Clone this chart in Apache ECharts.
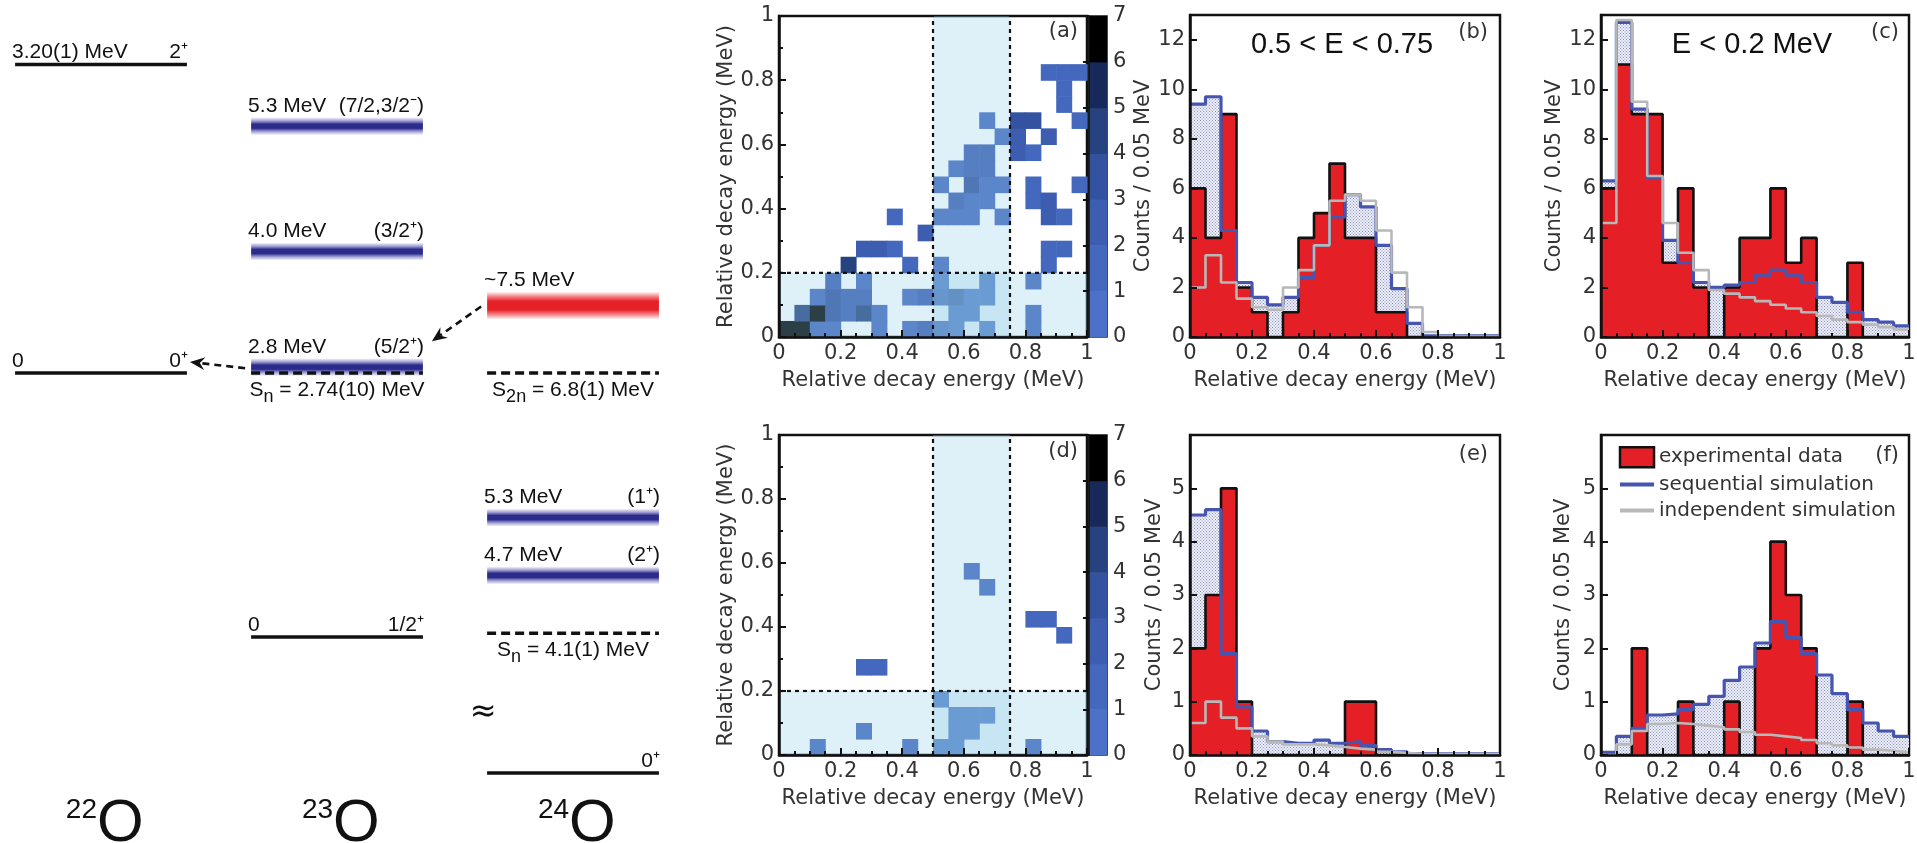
<!DOCTYPE html>
<html><head><meta charset="utf-8">
<script src="https://cdn.jsdelivr.net/npm/echarts@6/dist/echarts.min.js"></script>
<style>html,body{margin:0;padding:0;background:#fff}#c{width:1917px;height:843px}</style>
</head><body><div id="c"></div>
<script>
// ================= DATA =================
const binWidth = 0.05;
const energyTicks = [0, 0.2, 0.4, 0.6, 0.8, 1];
const energyTickLabels = ['0', '0.2', '0.4', '0.6', '0.8', '1'];

// ---- level scheme (energies in MeV) ----
const nucleusMass = ['22', '23', '24'];
const nucleusShift = [0, -2.74, -6.8];           // drawn relative to the 22O ground state
const levelNucleus = [0, 0, 1, 1, 1, 1, 2, 2, 2, 2];
const levelEnergy = [3.20, 0, 5.3, 4.0, 2.8, 0, 7.5, 5.3, 4.7, 0];
const levelKind = ['line', 'line', 'blue', 'blue', 'blue', 'line', 'red', 'blue', 'blue', 'broken'];
const levelLeftText = ['3.20(1) MeV', '0', '5.3 MeV', '4.0 MeV', '2.8 MeV', '0', '~7.5 MeV', '5.3 MeV', '4.7 MeV', ''];
const levelRightText = ['2\u207A', '0\u207A', '(7/2,3/2\u207B)', '(3/2\u207A)', '(5/2\u207A)', '1/2\u207A', '', '(1\u207A)', '(2\u207A)', '0\u207A'];
const brokenAxisLevelY = -4.15;                  // 24O g.s. drawn below the axis break
const thresholdNucleus = [1, 2, 2];
const thresholdEnergy = [2.74, 6.8, 4.1];
const thresholdSub = ['n', '2n', 'n'];
const thresholdValue = ['2.74(10) MeV', '6.8(1) MeV', '4.1(1) MeV'];
const transitionFrom = [6, 4];
const transitionTo = [4, 1];

// ---- 2D decay-energy correlations: [xBin, yBin, counts] ----
const heatA = [
  [0,0,7],[1,0,6],[2,0,1],[3,0,1],[6,0,1],[8,0,1],[9,0,2],[10,0,2],[11,0,1],[13,0,1],[16,0,1],
  [1,1,4],[2,1,6],[3,1,3],[4,1,2],[5,1,4],[6,1,1],[11,1,1],[12,1,1],[16,1,1],
  [2,2,1],[3,2,3],[4,2,2],[5,2,2],[8,2,1],[9,2,2],[10,2,2],[11,2,3],[12,2,1],[13,2,1],
  [3,3,2],[5,3,1],[10,3,1],[13,3,1],[16,3,1],
  [4,4,4],[8,4,1],[10,4,1],[17,4,1],
  [5,5,2],[6,5,2],[7,5,1],[17,5,1],[18,5,1],
  [9,6,2],
  [7,7,1],[10,7,1],[11,7,1],[12,7,1],[14,7,1],[17,7,2],[18,7,1],
  [11,8,2],[12,8,1],[13,8,1],[16,8,1],[17,8,2],
  [10,9,1],[12,9,3],[13,9,1],[14,9,1],[16,9,1],[19,9,1],
  [11,10,1],[12,10,2],[13,10,2],
  [12,11,2],[13,11,2],[15,11,2],[16,11,1],
  [14,12,1],[15,12,2],[17,12,2],
  [13,13,1],[15,13,3],[16,13,3],[19,13,1],
  [18,14,1],[18,15,1],
  [17,16,1],[18,16,1],[19,16,1]
];
const heatD = [
  [2,0,1],[8,0,1],[10,0,1],[11,0,1],[16,0,1],
  [5,1,1],[11,1,1],[12,1,1],
  [11,2,1],[12,2,1],[13,2,1],
  [10,3,1],
  [5,5,1],[6,5,1],
  [18,7,1],
  [16,8,1],[17,8,1],
  [13,10,1],
  [12,11,1]
];
const colorbarLevels = [0, 1, 2, 3, 4, 5, 6];
const colorbarTicks = [0, 1, 2, 3, 4, 5, 6, 7];
const cutWindow = [0.5, 0.75];
const lowEnergyCut = 0.2;

// ---- 1D histograms, 0.05 MeV bins from 0 to 1 ----
const expB = [6, 4, 9, 2, 1, 0, 1, 4, 5, 7, 4, 4, 1, 1, 0, 0, 0, 0, 0, 0];
const seqB = [9.4, 9.7, 4.3, 2.2, 1.6, 1.3, 1.6, 2.4, 3.7, 4.85, 5.75, 5.25, 3.7, 1.95, 0.55, 0.05, 0.05, 0.05, 0.05, 0.05];
const indB = [2.0, 3.3, 2.2, 1.55, 1.2, 1.1, 2.0, 2.7, 3.7, 5.5, 5.75, 5.5, 4.3, 2.6, 1.2, 0.2, 0.02, 0.02, 0.02, 0.02];

const expC = [6, 11, 9, 9, 3, 6, 2, 0, 2, 4, 4, 6, 3, 4, 0, 0, 3, 0, 0, 0];
const seqC = [6.3, 12.7, 9.2, 6.4, 3.9, 3.0, 2.2, 2.0, 2.1, 2.2, 2.5, 2.7, 2.5, 2.2, 1.6, 1.4, 1.0, 0.7, 0.6, 0.45];
const indC = [4.6, 12.8, 9.5, 6.5, 4.6, 3.4, 2.7, 1.9, 1.75, 1.6, 1.45, 1.3, 1.15, 1.0, 0.85, 0.7, 0.6, 0.5, 0.4, 0.3];

const expE = [2, 3, 5, 1, 0, 0, 0, 0, 0, 0, 1, 1, 0, 0, 0, 0, 0, 0, 0, 0];
const seqE = [4.5, 4.6, 1.9, 0.9, 0.45, 0.25, 0.22, 0.22, 0.28, 0.22, 0.25, 0.18, 0.1, 0.06, 0.02, 0.02, 0.02, 0.02, 0.02, 0.02];
const indE = [0.6, 1.0, 0.7, 0.5, 0.35, 0.25, 0.2, 0.2, 0.18, 0.15, 0.12, 0.1, 0.06, 0.04, 0.02, 0.02, 0.02, 0.02, 0.02, 0.02];

const expF = [0, 0, 2, 0, 0, 1, 0, 0, 1, 0, 2, 4, 3, 2, 0, 0, 1, 0, 0, 0];
const seqF = [0.05, 0.35, 0.5, 0.75, 0.77, 0.85, 0.95, 1.1, 1.4, 1.65, 2.1, 2.5, 2.2, 1.9, 1.5, 1.15, 0.85, 0.6, 0.45, 0.35];
const indF = [0.0, 0.2, 0.45, 0.58, 0.6, 0.58, 0.55, 0.52, 0.48, 0.43, 0.38, 0.35, 0.32, 0.28, 0.22, 0.18, 0.14, 0.1, 0.08, 0.05];

const legendNames = ['experimental data', 'sequential simulation', 'independent simulation'];

// ================= STYLE =================
const FONT = 'DejaVu Sans';
const SANS = 'Liberation Sans';
const INK = '#111';
const LABEL = '#333';
const RED = '#e41f26';
const BLUE = '#4655b0';
const GREY = '#b8b8b8';
const AX = 21;     // axis text size
const LV = 21;     // level-scheme text size
const heatColors = ['#4b72c8', '#4468bd', '#3c5db0', '#3352a0', '#27437f', '#17295a', '#000000'];

const chart = echarts.init(document.getElementById('c'), null, {renderer: 'canvas', width: 1917, height: 843});

function tickLabel(v) {
  const i = energyTicks.findIndex(t => Math.abs(t - v) < 1e-6);
  return i >= 0 ? energyTickLabels[i] : '';
}
function dotPattern() {
  const c = document.createElement('canvas'); c.width = 3; c.height = 3;
  const g = c.getContext('2d');
  g.fillStyle = '#eceef8'; g.fillRect(0, 0, 3, 3);
  g.fillStyle = '#8b91c0'; g.fillRect(0, 0, 1, 1); g.fillRect(1.5, 1.5, 1, 1);
  return c;
}
const DOTS = {image: dotPattern(), repeat: 'repeat'};

// ---- grids (layout only) ----
const gridBase = {show: true, borderColor: INK, borderWidth: 2.5, backgroundColor: 'transparent', containLabel: false, outerBoundsMode: 'none'};
const grids = [
  {show: false, left: 0, top: 0, width: 700, height: 843, containLabel: false, outerBoundsMode: 'none'},
  Object.assign({}, gridBase, {left: 779, top: 16, width: 308, height: 321}),
  Object.assign({}, gridBase, {left: 1089, top: 16, width: 18, height: 321, borderWidth: 1.5}),
  Object.assign({}, gridBase, {left: 779, top: 435, width: 308, height: 320}),
  Object.assign({}, gridBase, {left: 1089, top: 435, width: 18, height: 320, borderWidth: 1.5}),
  Object.assign({}, gridBase, {left: 1190, top: 15, width: 310, height: 322}),
  Object.assign({}, gridBase, {left: 1601, top: 15, width: 308, height: 322}),
  Object.assign({}, gridBase, {left: 1190, top: 435, width: 310, height: 320}),
  Object.assign({}, gridBase, {left: 1601, top: 435, width: 308, height: 320})
];

const axisLineS = {show: true, onZero: false, lineStyle: {color: INK, width: 2.5}};
const tickS = {show: true, inside: true, length: 7, lineStyle: {color: INK, width: 2}};
const nameS = {fontFamily: FONT, fontSize: AX, color: LABEL};

function energyX(g) {
  return {type: 'value', gridIndex: g, min: 0, max: 1, interval: 0.2, z: 6,
    axisLine: axisLineS, axisTick: tickS,
    minorTick: {show: true, splitNumber: 4, length: 4, lineStyle: {color: INK, width: 2}},
    splitLine: {show: false}, minorSplitLine: {show: false},
    axisLabel: {show: true, margin: 6, fontFamily: FONT, fontSize: AX, color: LABEL, formatter: tickLabel},
    name: 'Relative decay energy (MeV)', nameLocation: 'middle', nameGap: 33, nameTextStyle: nameS};
}
function energyY(g) {
  return {type: 'value', gridIndex: g, min: 0, max: 1, interval: 0.2, z: 6,
    axisLine: axisLineS, axisTick: tickS,
    minorTick: {show: true, splitNumber: 2, length: 4, lineStyle: {color: INK, width: 2}},
    splitLine: {show: false}, minorSplitLine: {show: false},
    axisLabel: {show: true, margin: 5, fontFamily: FONT, fontSize: AX, color: LABEL, formatter: tickLabel},
    name: 'Relative decay energy (MeV)', nameLocation: 'middle', nameGap: 42, nameTextStyle: nameS};
}
function countsY(g, max, interval, gap) {
  return {type: 'value', gridIndex: g, min: 0, max: max, interval: interval, z: 6,
    axisLine: axisLineS, axisTick: tickS, minorTick: {show: false},
    splitLine: {show: false},
    axisLabel: {show: true, showMaxLabel: false, margin: 5, fontFamily: FONT, fontSize: AX, color: LABEL},
    name: 'Counts / 0.05 MeV', nameLocation: 'middle', nameGap: gap, nameTextStyle: nameS};
}
function cbX(g) { return {type: 'value', gridIndex: g, min: 0, max: 1, show: false}; }
function cbY(g) {
  return {type: 'value', gridIndex: g, min: colorbarTicks[0], max: colorbarTicks[colorbarTicks.length - 1], interval: 1, position: 'right', z: 6,
    axisLine: {show: true, lineStyle: {color: INK, width: 1.5}},
    axisTick: {show: true, inside: true, length: 6, lineStyle: {color: INK, width: 2}},
    splitLine: {show: false},
    axisLabel: {show: true, margin: 6, fontFamily: FONT, fontSize: AX, color: LABEL}};
}

const xAxes = [
  {type: 'value', gridIndex: 0, min: -0.428, max: 2.538, show: false},
  energyX(1), cbX(2), energyX(3), cbX(4), energyX(5), energyX(6), energyX(7), energyX(8)
];
const yAxes = [
  {type: 'value', gridIndex: 0, min: -4.876, max: 3.869, show: false},
  energyY(1), cbY(2), energyY(3), cbY(4),
  countsY(5, 13, 2, 22), countsY(6, 13, 2, 27), countsY(7, 6, 1, 25), countsY(8, 6, 1, 27)
];

// ---- level scheme series ----
const HW = 0.364;
function levelY(i) { return levelKind[i] === 'broken' ? brokenAxisLevelY : levelEnergy[i] + nucleusShift[levelNucleus[i]]; }
function txt(text, x, y, size, align, family) {
  return {type: 'text', style: {text: text, x: x, y: y, fontSize: size, fontFamily: family || SANS, fill: INK,
    align: align, textAlign: align, verticalAlign: 'middle', textVerticalAlign: 'middle'}};
}
function bandGradient(kind) {
  if (kind === 'red') {
    return new echarts.graphic.LinearGradient(0, 0, 0, 1, [
      {offset: 0, color: 'rgba(235,45,50,0)'}, {offset: 0.18, color: 'rgba(235,45,50,0.6)'},
      {offset: 0.35, color: '#e62027'}, {offset: 0.65, color: '#e62027'},
      {offset: 0.82, color: 'rgba(235,45,50,0.6)'}, {offset: 1, color: 'rgba(235,45,50,0)'}]);
  }
  return new echarts.graphic.LinearGradient(0, 0, 0, 1, [
    {offset: 0, color: 'rgba(70,70,170,0)'}, {offset: 0.2, color: 'rgba(70,70,170,0.5)'},
    {offset: 0.38, color: '#2b2b8c'}, {offset: 0.62, color: '#2b2b8c'},
    {offset: 0.8, color: 'rgba(70,70,170,0.5)'}, {offset: 1, color: 'rgba(70,70,170,0)'}]);
}
const levelSeries = {
  type: 'custom', xAxisIndex: 0, yAxisIndex: 0, silent: true, z: 3,
  data: levelEnergy.map((e, i) => [i]),
  renderItem(params, api) {
    const i = api.value(0), n = levelNucleus[i], kind = levelKind[i], y = levelY(i);
    const a = api.coord([n - HW, y]), b = api.coord([n + HW, y]);
    const ch = [];
    let off = -12;
    if (kind === 'line' || kind === 'broken') {
      ch.push({type: 'line', shape: {x1: a[0], y1: a[1], x2: b[0], y2: b[1]}, style: {stroke: INK, lineWidth: 3.5}});
    } else {
      const h = kind === 'red' ? 28 : 18;
      off = kind === 'red' ? -25 : -20;
      ch.push({type: 'rect', shape: {x: a[0], y: a[1] - h / 2, width: b[0] - a[0], height: h}, style: {fill: bandGradient(kind)}});
    }
    if (levelLeftText[i]) ch.push(txt(levelLeftText[i], a[0] - 3, a[1] + off, LV, 'left'));
    if (levelRightText[i]) ch.push(txt(levelRightText[i], b[0] + 1, a[1] + off, LV, 'right'));
    if (kind === 'broken') ch.push(txt('\u2248', a[0] - 4, a[1] - 60, 32, 'center', FONT));
    return {type: 'group', children: ch};
  }
};
const thresholdSeries = {
  type: 'custom', xAxisIndex: 0, yAxisIndex: 0, silent: true, z: 3,
  data: thresholdEnergy.map((e, i) => [i]),
  renderItem(params, api) {
    const i = api.value(0), n = thresholdNucleus[i], y = thresholdEnergy[i] + nucleusShift[n];
    const a = api.coord([n - HW, y]), b = api.coord([n + HW, y]), c = api.coord([n, y]);
    return {type: 'group', children: [
      {type: 'line', shape: {x1: a[0], y1: a[1], x2: b[0], y2: b[1]}, style: {stroke: INK, lineWidth: 3.5, lineDash: [9, 5]}},
      {type: 'text', style: {
        text: '{m|S}{s|' + thresholdSub[i] + '}{m| = ' + thresholdValue[i] + '}',
        x: c[0], y: c[1] + 17, align: 'center', textAlign: 'center', verticalAlign: 'middle', textVerticalAlign: 'middle',
        rich: {
          m: {fontSize: LV, fontFamily: SANS, fill: INK, color: INK, lineHeight: 32, verticalAlign: 'middle'},
          s: {fontSize: 18, fontFamily: SANS, fill: INK, color: INK, lineHeight: 32, verticalAlign: 'bottom'}
        }}}
    ]};
  }
};
const transitionSeries = {
  type: 'custom', xAxisIndex: 0, yAxisIndex: 0, silent: true, z: 4,
  data: transitionFrom.map((f, i) => [i]),
  renderItem(params, api) {
    const i = api.value(0), f = transitionFrom[i], t = transitionTo[i];
    const s = api.coord([levelNucleus[f] - HW, levelY(f)]);
    const e = api.coord([levelNucleus[t] + HW, levelY(t)]);
    s[0] -= 6; s[1] += 1;
    const thin = levelKind[t] === 'line';
    e[0] += thin ? 3 : 9; e[1] += thin ? -11 : -26;
    const dx = e[0] - s[0], dy = e[1] - s[1], L = Math.hypot(dx, dy), ux = dx / L, uy = dy / L;
    const nx = -uy, ny = ux;
    const back = [e[0] - ux * 15, e[1] - uy * 15], notch = [e[0] - ux * 10, e[1] - uy * 10];
    return {type: 'group', children: [
      {type: 'line', shape: {x1: s[0], y1: s[1], x2: notch[0], y2: notch[1]}, style: {stroke: INK, lineWidth: 2.6, lineDash: [7, 5]}},
      {type: 'polygon', shape: {points: [e, [back[0] + nx * 6.5, back[1] + ny * 6.5], notch, [back[0] - nx * 6.5, back[1] - ny * 6.5]]}, style: {fill: INK}}
    ]};
  }
};
const nucleusSeries = {
  type: 'custom', xAxisIndex: 0, yAxisIndex: 0, silent: true, z: 3,
  data: nucleusMass.map((m, i) => [i]),
  renderItem(params, api) {
    const i = api.value(0);
    const p = api.coord([i, -4.876]);
    return {type: 'group', children: [
      txt(nucleusMass[i], p[0] - 4, p[1] - 33, 28, 'right'),
      txt('O', p[0] - 4, p[1] - 19, 60, 'left')
    ]};
  }
};

// ---- heatmap panels ----
function heatSeries(cells, g) {
  return {type: 'custom', xAxisIndex: g, yAxisIndex: g, silent: true, z: 2, data: cells,
    renderItem(params, api) {
      const k = api.value(0), j = api.value(1), n = api.value(2);
      const a = api.coord([k * binWidth, (j + 1) * binWidth]), b = api.coord([(k + 1) * binWidth, j * binWidth]);
      return {type: 'rect', shape: {x: a[0], y: a[1], width: b[0] - a[0] + 0.6, height: b[1] - a[1] + 0.6},
        style: {fill: heatColors[Math.min(n, heatColors.length - 1)]}};
    }};
}
const cutRegions = [[cutWindow[0], cutWindow[1], 0, 1], [0, 1, 0, lowEnergyCut]];
const cutLines = [[cutWindow[0], 0, cutWindow[0], 1], [cutWindow[1], 0, cutWindow[1], 1], [0, lowEnergyCut, 1, lowEnergyCut]];
function cutShadeSeries(g) {
  return {type: 'custom', xAxisIndex: g, yAxisIndex: g, silent: true, z: 3, data: cutRegions,
    renderItem(params, api) {
      const a = api.coord([api.value(0), api.value(3)]), b = api.coord([api.value(1), api.value(2)]);
      return {type: 'rect', shape: {x: a[0], y: a[1], width: b[0] - a[0], height: b[1] - a[1]}, style: {fill: 'rgba(145,205,232,0.3)'}};
    }};
}
function cutLineSeries(g) {
  return {type: 'custom', xAxisIndex: g, yAxisIndex: g, silent: true, z: 4, data: cutLines,
    renderItem(params, api) {
      const a = api.coord([api.value(0), api.value(1)]), b = api.coord([api.value(2), api.value(3)]);
      return {type: 'line', shape: {x1: a[0], y1: a[1], x2: b[0], y2: b[1]}, style: {stroke: INK, lineWidth: 2.2, lineDash: [4, 4]}};
    }};
}
function colorbarSeries(g) {
  return {type: 'custom', xAxisIndex: g, yAxisIndex: g, silent: true, z: 2, data: colorbarLevels.map(v => [v]),
    renderItem(params, api) {
      const v = api.value(0);
      const a = api.coord([0, v + 1]), b = api.coord([1, v]);
      return {type: 'rect', shape: {x: a[0], y: a[1], width: b[0] - a[0], height: b[1] - a[1] + 0.5}, style: {fill: heatColors[v]}};
    }};
}

// ---- histogram panels ----
function stepData(vals) {
  const pts = vals.map((v, i) => [i * binWidth, v]);
  pts.push([vals.length * binWidth, vals[vals.length - 1]]);
  return pts;
}
function histSeries(g, exp, seq, ind) {
  const base = {type: 'line', xAxisIndex: g, yAxisIndex: g, step: 'end', symbol: 'none', showSymbol: false, animation: false};
  return [
    Object.assign({}, base, {name: 'sequential simulation fill', data: stepData(seq), silent: true, z: 2,
      lineStyle: {opacity: 0}, areaStyle: {color: DOTS, opacity: 1}}),
    Object.assign({}, base, {name: legendNames[0], data: stepData(exp), z: 3,
      itemStyle: {color: RED}, lineStyle: {color: INK, width: 2.6}, areaStyle: {color: RED, opacity: 1}}),
    Object.assign({}, base, {name: legendNames[1], data: stepData(seq), z: 4,
      itemStyle: {color: BLUE}, lineStyle: {color: BLUE, width: 3.2}}),
    Object.assign({}, base, {name: legendNames[2], data: stepData(ind), z: 5,
      itemStyle: {color: GREY}, lineStyle: {color: GREY, width: 2.6}})
  ];
}

const series = [
  levelSeries, thresholdSeries, transitionSeries, nucleusSeries,
  heatSeries(heatA, 1), cutShadeSeries(1), cutLineSeries(1), colorbarSeries(2),
  heatSeries(heatD, 3), cutShadeSeries(3), cutLineSeries(3), colorbarSeries(4)
].concat(histSeries(5, expB, seqB, indB), histSeries(6, expC, seqC, indC),
         histSeries(7, expE, seqE, indE), histSeries(8, expF, seqF, indF));

function label(text, x, y, size, align, family) {
  return {type: 'text', x: x, y: y, z: 20, silent: true,
    style: {text: text, fontSize: size, fontFamily: family || FONT, fill: family ? INK : LABEL,
      align: align, textAlign: align, verticalAlign: 'middle', textVerticalAlign: 'middle'}};
}

chart.setOption({
  animation: false,
  backgroundColor: '#fff',
  grid: grids,
  xAxis: xAxes,
  yAxis: yAxes,
  legend: {
    left: 1618, top: 446, orient: 'vertical', padding: 0, itemWidth: 34, itemHeight: 20, itemGap: 6,
    selectedMode: false, textStyle: {fontFamily: FONT, fontSize: 20, color: LABEL},
    data: [
      {name: legendNames[0], icon: 'rect', itemStyle: {color: RED, borderColor: INK, borderWidth: 2.5}},
      {name: legendNames[1], itemStyle: {opacity: 0}, lineStyle: {width: 4, color: BLUE}},
      {name: legendNames[2], itemStyle: {opacity: 0}, lineStyle: {width: 4, color: GREY}}
    ]
  },
  graphic: [
    label('(a)', 1078, 32, AX, 'right'),
    label('(b)', 1488, 33, AX, 'right'),
    label('(c)', 1899, 33, AX, 'right'),
    label('(d)', 1078, 452, AX, 'right'),
    label('(e)', 1488, 455, AX, 'right'),
    label('(f)', 1899, 456, AX, 'right'),
    label('0.5 < E < 0.75', 1342, 45, 29, 'center', SANS),
    label('E < 0.2 MeV', 1752, 45, 29, 'center', SANS)
  ],
  series: series
});
</script>
</body></html>
